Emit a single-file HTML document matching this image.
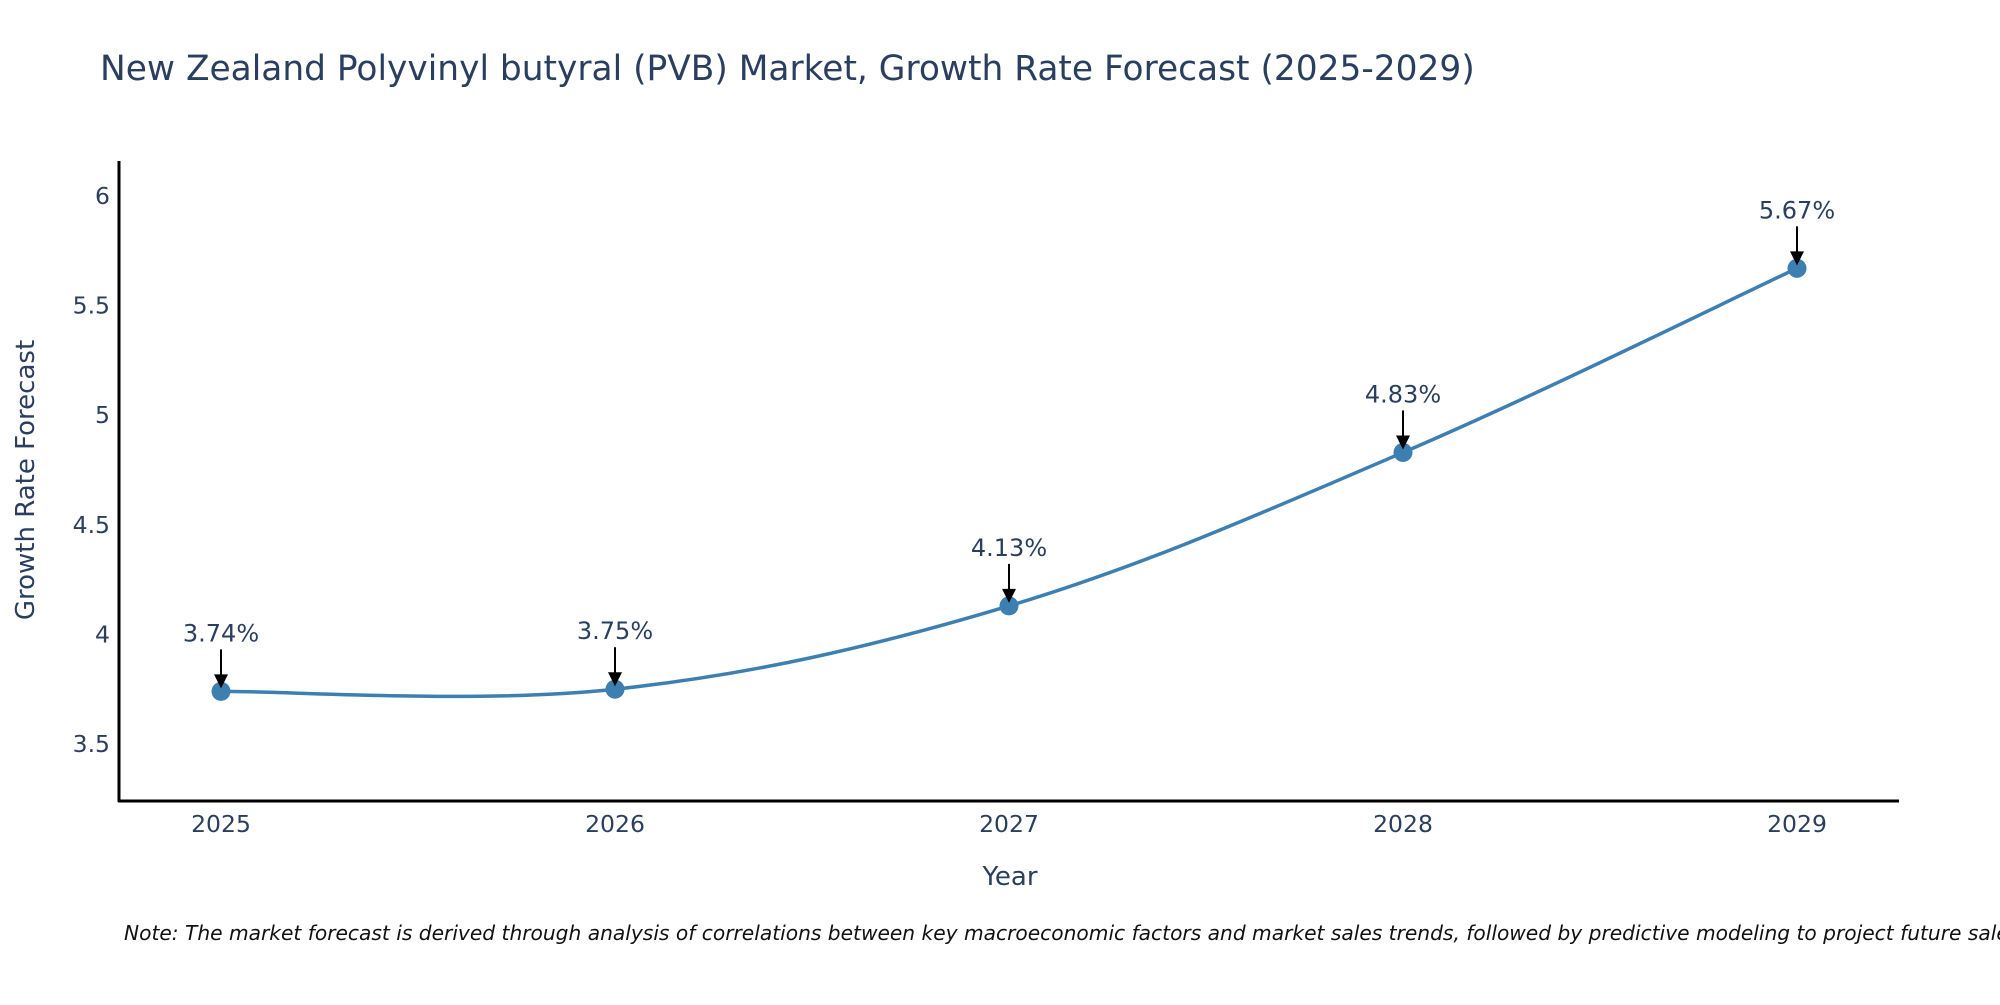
<!DOCTYPE html>
<html><head><meta charset="utf-8"><style>
body{margin:0;background:#fff}
svg text{font-family:"DejaVu Sans","Liberation Sans",sans-serif;fill:#2a3f5f}
</style></head><body>
<svg id="chart" width="2000" height="1000" xmlns="http://www.w3.org/2000/svg">
<text x="100" y="80" font-size="34.4">New Zealand Polyvinyl butyral (PVB) Market, Growth Rate Forecast (2025-2029)</text>
<g id="yticks"></g>
<g id="xticks"></g>
<line x1="119" y1="161" x2="119" y2="802" stroke="#000" stroke-width="3"/>
<line x1="118" y1="801" x2="1899" y2="801" stroke="#000" stroke-width="3"/>
<path id="line" fill="none" stroke="#3d7fb1" stroke-width="3.5"/>
<g id="marks"></g>
<text x="1010" y="885" font-size="26" text-anchor="middle">Year</text>
<text transform="translate(34,480) rotate(-90)" font-size="26" text-anchor="middle">Growth Rate Forecast</text>
<text x="124" y="940" font-size="20.2" font-style="italic" style="fill:#111">Note: The market forecast is derived through analysis of correlations between key macroeconomic factors and market sales trends, followed by predictive modeling to project future sales.</text>
</svg>
<script>
const years=["2025","2026","2027","2028","2029"];
const values=[3.74,3.75,4.13,4.83,5.67];
const labels=["3.74%","3.75%","4.13%","4.83%","5.67%"];
const yTicks=[3.5,4,4.5,5,5.5,6];
const yTickLabels=["3.5","4","4.5","5","5.5","6"];
const NS="http://www.w3.org/2000/svg";
const xs=i=>221+i*394;
const ys=v=>744-(v-3.5)*219.2;
function mk(tag,attrs,parent,txt){const e=document.createElementNS(NS,tag);for(const k in attrs)e.setAttribute(k,attrs[k]);if(txt!==undefined)e.textContent=txt;parent.appendChild(e);return e;}
const yt=document.getElementById('yticks');
yTicks.forEach((v,i)=>{const t=mk('text',{x:110,y:ys(v)+8,'font-size':23.5,'text-anchor':'end'},yt,yTickLabels[i]);

});
const xt=document.getElementById('xticks');
years.forEach((y,i)=>{const t=mk('text',{x:xs(i),y:832,'font-size':23.5,'text-anchor':'middle'},xt,y);

});
const P=values.map((v,i)=>[xs(i),ys(v)]);
let d=`M${P[0][0]},${P[0][1]}`;const tn=0.35;
for(let i=0;i<P.length-1;i++){const p0=P[Math.max(i-1,0)],p1=P[i],p2=P[i+1],p3=P[Math.min(i+2,P.length-1)];
const c1=[p1[0]+(p2[0]-p0[0])*tn/2,p1[1]+(p2[1]-p0[1])*tn/2];
const c2=[p2[0]-(p3[0]-p1[0])*tn/2,p2[1]-(p3[1]-p1[1])*tn/2];
d+=` C${c1[0]},${c1[1]} ${c2[0]},${c2[1]} ${p2[0]},${p2[1]}`;}
document.getElementById('line').setAttribute('d',d);
const mg=document.getElementById('marks');
P.forEach((p,i)=>{
const c=mk('circle',{cx:p[0],cy:p[1],r:9.5,fill:'#3d7fb1'},mg);


const l=mk('line',{x1:p[0],y1:p[1]-42,x2:p[0],y2:p[1]-14,stroke:'#000','stroke-width':2},mg);


const h=mk('polygon',{points:`${p[0]-7},${p[1]-17} ${p[0]+7},${p[1]-17} ${p[0]},${p[1]-3}`,fill:'#000'},mg);


const t=mk('text',{x:p[0],y:p[1]-50,'font-size':24,'text-anchor':'middle'},mg,labels[i]);


});
</script>
</body></html>
